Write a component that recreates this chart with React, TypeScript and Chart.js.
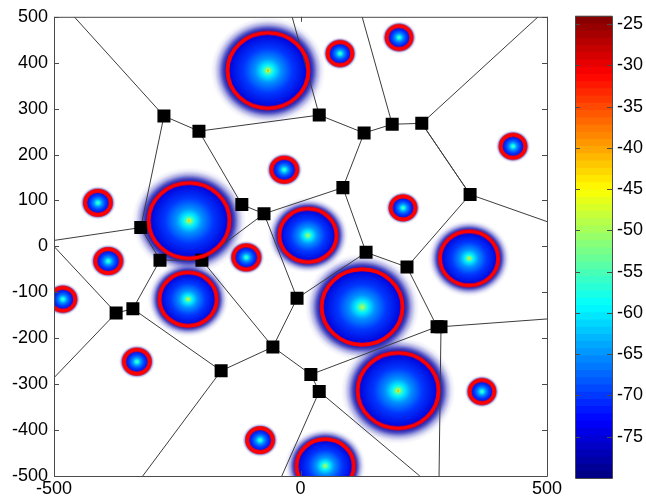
import React, { useEffect, useRef } from "react";
import { Chart, registerables } from "chart.js";

Chart.register(...registerables);

// Cell centres, cell radii (data units) and peak level (dB) of every cluster
const clusterX = [-66, 80, 200, 431, -33, 208, -411, -226, 15, 342, -390, -110, -228, -482, 125, 198, 368, -332, -82, 50];
const clusterY = [383, 420, 455, 218, 167, 84, 95, 56, 24, -26, -32, -24, -115, -115, -132, -314, -316, -251, -422, -478];
const clusterRadius = [82, 25, 25, 25, 26, 25, 26, 82, 58, 59, 26, 26, 58, 25, 82, 82, 25, 26, 26, 58];
const clusterPeak = [-36, -52, -52, -52, -52, -52, -52, -38, -46, -36, -52, -52, -38, -52, -46, -36, -52, -52, -52, -46];

// Voronoi vertices
const vertexX = [-277, -206, 38, 129, 186, 246, 344, 86, -119, -74, -324, -285, -200, 133, 216, -7, 277, 285, -56, -161, -374, -340, 21, 38];
const vertexY = [284, 251, 286, 247, 266, 268, 113, 128, 91, 71, 41, -30, -30, -13, -45, -113, -175, -175, -219, -271, -145, -136, -279, -316];

// Voronoi edges between vertices
const edgeFrom = [0, 0, 1, 1, 2, 3, 3, 4, 5, 7, 7, 13, 14, 14, 6, 8, 9, 9, 10, 11, 11, 12, 15, 15, 18, 18, 19, 20, 22, 22];
const edgeTo = [1, 10, 2, 8, 3, 4, 7, 5, 6, 13, 9, 14, 16, 6, 5, 9, 12, 15, 11, 12, 21, 18, 13, 18, 19, 22, 21, 21, 16, 23];

// Edges running out to the frame: vertex and end point on the frame
const openVertex = [0, 10, 20, 20, 19, 23, 23, 17, 17, 6, 2, 4, 5];
const openX = [-459, -500, -500, -500, -320, -38, 242, 281, 500, 500, -17, 125, 482];
const openY = [500, 13, 0, -286, -500, -500, -500, -500, -158, 54, 500, 500, 500];

const axisXTicks = [-500, 0, 500];
const axisYTicks = [-500, -400, -300, -200, -100, 0, 100, 200, 300, 400, 500];
const barTicks = [-25, -30, -35, -40, -45, -50, -55, -60, -65, -70, -75];
const barMin = -80;
const barMax = -24;
const barLevels = 64;

const FONT = { family: "'Liberation Sans', Arial, sans-serif", size: 18 };

function jet(t: number): string {
  const c = (v: number) => Math.round(255 * Math.max(0, Math.min(1, v)));
  const f = Math.max(0, Math.min(1, t)) * 4;
  return `rgb(${c(Math.min(f - 1.5, 4.5 - f))},${c(Math.min(f - 0.5, 3.5 - f))},${c(Math.min(f + 0.5, 2.5 - f))})`;
}
const levelColor = (db: number) => jet((db - barMin) / (barMax - barMin));

function pxPerUnit(chart: any) {
  const { x, y } = chart.scales;
  return { sx: x.width / 1000, sy: y.height / 1000 };
}

const sprites = new Map<string, HTMLCanvasElement>();
function heatSprite(chart: any, i: number) {
  const { sx, sy } = pxPerUnit(chart);
  const key = `h${i}:${sx}:${sy}`;
  if (sprites.has(key)) return sprites.get(key)!;
  const ext = 1.42;
  const rx = clusterRadius[i] * sx;
  const ry = clusterRadius[i] * sy;
  const cv = document.createElement("canvas");
  cv.width = 2 * Math.ceil(rx * ext) + 2;
  cv.height = 2 * Math.ceil(ry * ext) + 2;
  const g = cv.getContext("2d")!;
  g.translate(cv.width / 2, cv.height / 2);
  g.scale(rx, ry);
  const gr = g.createRadialGradient(0, 0, 0, 0, 0, ext);
  const peak = clusterPeak[i];
  const stop = (s: number, col: string) => gr.addColorStop(s / ext, col);
  stop(0, levelColor(peak));
  stop(0.03, levelColor(Math.min(peak - 5, -48)));
  stop(0.08, levelColor(-55));
  stop(0.16, levelColor(-60));
  stop(0.32, levelColor(-65));
  stop(0.6, levelColor(-70));
  stop(0.98, levelColor(-75));
  stop(1.02, "rgba(0,0,170,0.95)");
  stop(1.12, "rgba(0,0,170,0.72)");
  stop(1.22, "rgba(0,0,170,0.32)");
  stop(1.32, "rgba(0,0,170,0.08)");
  stop(ext, "rgba(0,0,170,0)");
  g.fillStyle = gr;
  g.beginPath();
  g.arc(0, 0, ext, 0, Math.PI * 2);
  g.fill();
  sprites.set(key, cv);
  return cv;
}

function ringSprite(chart: any, i: number) {
  const { sx, sy } = pxPerUnit(chart);
  const key = `r${i}:${sx}:${sy}`;
  if (sprites.has(key)) return sprites.get(key)!;
  const rx = clusterRadius[i] * sx;
  const ry = clusterRadius[i] * sy;
  const cv = document.createElement("canvas");
  cv.width = 2 * Math.ceil(rx + 4);
  cv.height = 2 * Math.ceil(ry + 4);
  const g = cv.getContext("2d")!;
  g.strokeStyle = "#ff0000";
  g.lineWidth = 4;
  g.beginPath();
  g.ellipse(cv.width / 2, cv.height / 2, rx, ry, 0, 0, Math.PI * 2);
  g.stroke();
  sprites.set(key, cv);
  return cv;
}

function framePlugin(showX: boolean) {
  return {
    id: "frame",
    afterDatasetsDraw(chart: any) {
      const { ctx, chartArea: a, scales } = chart;
      const len = 5;
      ctx.save();
      ctx.strokeStyle = "#4a4a4a";
      ctx.lineWidth = 1;
      ctx.beginPath();
      ctx.rect(a.left + 0.5, a.top + 0.5, a.right - a.left, a.bottom - a.top);
      scales.y.ticks.forEach((t: any) => {
        const p = Math.round(scales.y.getPixelForValue(t.value)) + 0.5;
        ctx.moveTo(a.left, p);
        ctx.lineTo(a.left + len, p);
        ctx.moveTo(a.right, p);
        ctx.lineTo(a.right - len, p);
      });
      if (showX) {
        scales.x.ticks.forEach((t: any) => {
          const p = Math.round(scales.x.getPixelForValue(t.value)) + 0.5;
          ctx.moveTo(p, a.top);
          ctx.lineTo(p, a.top + len);
          ctx.moveTo(p, a.bottom);
          ctx.lineTo(p, a.bottom - len);
        });
      }
      ctx.stroke();
      ctx.restore();
    },
  };
}

export default function App() {
  const mainRef = useRef<HTMLCanvasElement>(null);
  const barRef = useRef<HTMLCanvasElement>(null);

  useEffect(() => {
    const clusters = clusterX.map((x, i) => ({ x, y: clusterY[i] }));
    const vertices = vertexX.map((x, i) => ({ x, y: vertexY[i] }));
    const gap = { x: NaN, y: NaN };
    const edges: { x: number; y: number }[] = [];
    edgeFrom.forEach((a, i) => edges.push(vertices[a], vertices[edgeTo[i]], gap));
    openVertex.forEach((a, i) => edges.push(vertices[a], { x: openX[i], y: openY[i] }, gap));

    const main = new Chart(mainRef.current!, {
      type: "scatter",
      data: {
        datasets: [
          {
            label: "Received power",
            data: clusters,
            order: 4,
            pointRadius: 10,
            borderWidth: 0,
            pointStyle: (c: any) => (c.dataIndex === undefined ? "circle" : heatSprite(c.chart, c.dataIndex)),
          } as any,
          {
            label: "Cell edges",
            data: edges,
            order: 3,
            showLine: true,
            spanGaps: false,
            pointRadius: 0,
            borderColor: "#3c3c3c",
            borderWidth: 1,
          },
          {
            label: "Vertices",
            data: vertices,
            order: 2,
            pointStyle: "rect",
            pointRadius: 9.2,
            borderWidth: 0,
            backgroundColor: "#000",
          },
          {
            label: "Cell range",
            data: clusters,
            order: 1,
            pointRadius: 10,
            borderWidth: 0,
            pointStyle: (c: any) => (c.dataIndex === undefined ? "circle" : ringSprite(c.chart, c.dataIndex)),
          } as any,
        ],
      },
      options: {
        animation: false,
        responsive: false,
        devicePixelRatio: 1,
        layout: { padding: { left: 0, right: 28, top: 14, bottom: 0 } },
        plugins: { legend: { display: false }, tooltip: { enabled: false } },
        scales: {
          x: {
            type: "linear",
            min: -500,
            max: 500,
            grid: { display: false, drawTicks: false },
            border: { display: false },
            ticks: { color: "#000", font: FONT, padding: 2, maxRotation: 0, callback: (v: any) => String(v) },
            afterBuildTicks: (s: any) => { s.ticks = axisXTicks.map((value) => ({ value })); },
            afterFit: (s: any) => { s.height = 25; },
          },
          y: {
            type: "linear",
            min: -500,
            max: 500,
            grid: { display: false, drawTicks: false },
            border: { display: false },
            ticks: { color: "#000", font: FONT, padding: 6, callback: (v: any) => String(v) },
            afterBuildTicks: (s: any) => { s.ticks = axisYTicks.map((value) => ({ value })); },
            afterFit: (s: any) => { s.width = 54; },
          },
        },
      } as any,
      plugins: [framePlugin(true)],
    });

    const step = (barMax - barMin) / barLevels;
    const bar = new Chart(barRef.current!, {
      type: "bar",
      data: {
        labels: ["dB"],
        datasets: Array.from({ length: barLevels }, (_, k) => ({
          label: String(k),
          data: [[barMin + k * step, barMin + (k + 1) * step + (k < barLevels - 1 ? 0.05 : 0)]],
          backgroundColor: jet((k + 0.5) / barLevels),
          borderWidth: 0,
          barPercentage: 1,
          categoryPercentage: 1,
          grouped: false,
          order: barLevels - k,
        })),
      },
      options: {
        animation: false,
        responsive: false,
        devicePixelRatio: 1,
        layout: { padding: { left: 15, right: 0, top: 14, bottom: 23 } },
        plugins: { legend: { display: false }, tooltip: { enabled: false } },
        scales: {
          x: { display: false },
          y: {
            position: "right",
            min: barMin,
            max: barMax,
            grid: { display: false, drawTicks: false },
            border: { display: false },
            ticks: { color: "#000", font: FONT, padding: 5, callback: (v: any) => String(v) },
            afterBuildTicks: (s: any) => { s.ticks = barTicks.map((value) => ({ value })); },
            afterFit: (s: any) => { s.width = 34; },
          },
        },
      } as any,
      plugins: [framePlugin(false)],
    });

    return () => {
      main.destroy();
      bar.destroy();
    };
  }, []);

  return (
    <div style={{ position: "fixed", left: 0, top: 0, width: 646, height: 501, background: "#fff" }}>
      <canvas ref={mainRef} width={575} height={501} style={{ position: "absolute", left: 0, top: 0 }} />
      <canvas ref={barRef} width={86} height={501} style={{ position: "absolute", left: 560, top: 0 }} />
    </div>
  );
}
